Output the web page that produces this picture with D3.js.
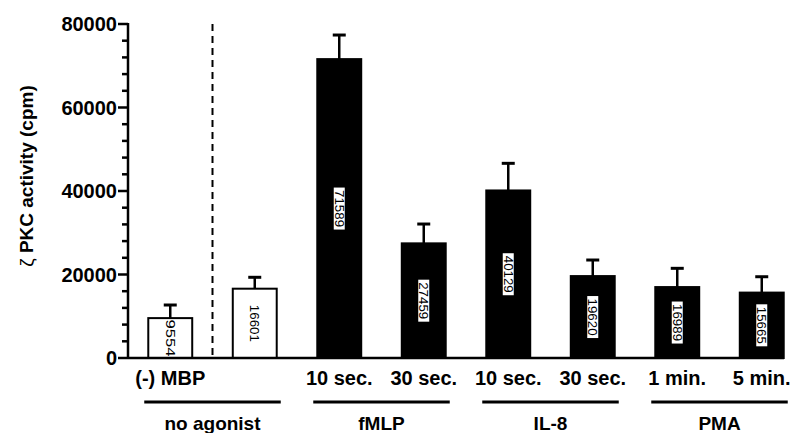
<!DOCTYPE html>
<html><head><meta charset="utf-8">
<script src="https://cdn.jsdelivr.net/npm/d3@7"></script>
<style>body{margin:0;background:#fff}svg{display:block}</style>
</head><body>
<svg id="c" width="797" height="433"></svg>
<script>
const categories = ["(-) MBP", "b2", "f10", "f30", "i10", "i30", "p1", "p5"];
const categoryLabels = ["(-) MBP", "", "10 sec.", "30 sec.", "10 sec.", "30 sec.", "1 min.", "5 min."];
const values = [9554, 16601, 71589, 27459, 40129, 19620, 16989, 15665];
const errors = [3140, 2730, 5770, 4630, 6500, 3850, 4490, 3800];
const filled = [false, false, true, true, true, true, true, true];
const groups = ["no agonist", "fMLP", "IL-8", "PMA"];
const groupMembers = [["(-) MBP", "b2"], ["f10", "f30"], ["i10", "i30"], ["p1", "p5"]];
const yTicks = [0, 20000, 40000, 60000, 80000];

const svg = d3.select("#c");
const font = "'Liberation Sans', Arial, Helvetica, sans-serif";
const x = d3.scaleBand().domain(categories).range([128, 804]).paddingInner(0.48).paddingOuter(0.24);
const y = d3.scaleLinear().domain([0, 80000]).range([358, 24]);

// dashed separator
const sepX = (x("(-) MBP") + x.bandwidth() + x("b2")) / 2;
svg.append("line").attr("x1", sepX).attr("x2", sepX).attr("y1", y(80000)).attr("y2", y(0))
  .attr("stroke", "#000").attr("stroke-width", 2).attr("stroke-dasharray", "7,5");

// bars
const data = categories.map((c, i) => ({c, v: values[i], e: errors[i], f: filled[i]}));
svg.selectAll("rect.bar").data(data).enter().append("rect")
  .attr("x", d => x(d.c)).attr("width", x.bandwidth())
  .attr("y", d => y(d.v)).attr("height", d => y(0) - y(d.v))
  .attr("fill", d => d.f ? "#000" : "#fff").attr("stroke", "#000").attr("stroke-width", 2);

// error bars
const eb = svg.selectAll("g.eb").data(data).enter().append("g");
eb.append("line").attr("x1", d => x(d.c) + x.bandwidth()/2).attr("x2", d => x(d.c) + x.bandwidth()/2)
  .attr("y1", d => y(d.v)).attr("y2", d => y(d.v + d.e)).attr("stroke", "#000").attr("stroke-width", 2.5);
eb.append("line").attr("x1", d => x(d.c) + x.bandwidth()/2 - 6.5).attr("x2", d => x(d.c) + x.bandwidth()/2 + 6.5)
  .attr("y1", d => y(d.v + d.e)).attr("y2", d => y(d.v + d.e)).attr("stroke", "#000").attr("stroke-width", 3);

// value labels
const vl = svg.selectAll("g.vl").data(data).enter().append("g")
  .attr("transform", d => `translate(${x(d.c) + x.bandwidth()/2},${(y(d.v) + y(0))/2}) rotate(90)`);
vl.filter(d => d.f).append("rect").attr("x", -21).attr("y", -5.5).attr("width", 42).attr("height", 11).attr("fill", "#fff");
vl.append("text").attr("text-anchor", "middle").attr("y", 4.3)
  .attr("font-family", font).attr("font-size", 12).attr("textLength", 37).attr("lengthAdjust", "spacingAndGlyphs")
  .text(d => d.v);

// y axis
const gy = svg.append("g").attr("transform", "translate(128,0)");
gy.append("line").attr("x1", 0).attr("x2", 0).attr("y1", y(80000) - 1).attr("y2", y(0)).attr("stroke", "#000").attr("stroke-width", 2.5);
gy.selectAll("line.minor").data(d3.range(0, 80001, 4000)).enter().append("line")
  .attr("x1", d => yTicks.includes(d) ? -10 : -6).attr("x2", 0)
  .attr("y1", d => y(d)).attr("y2", d => y(d)).attr("stroke", "#000").attr("stroke-width", 2.5);
gy.selectAll("text").data(yTicks).enter().append("text")
  .attr("x", -11).attr("y", d => y(d)).attr("dy", "0.36em").attr("text-anchor", "end")
  .attr("font-family", font).attr("font-weight", "bold").attr("font-size", 20).text(d => d);

// x axis line
svg.append("line").attr("x1", 128).attr("x2", 784).attr("y1", y(0)).attr("y2", y(0)).attr("stroke", "#000").attr("stroke-width", 2.5);

// category labels
svg.selectAll("text.cat").data(categories).enter().append("text")
  .attr("x", d => x(d) + x.bandwidth()/2).attr("y", 385).attr("text-anchor", "middle")
  .attr("font-family", font).attr("font-weight", "bold").attr("font-size", 20)
  .text((d, i) => categoryLabels[i]);

// group lines and labels
groups.forEach((g, i) => {
  const a = x(groupMembers[i][0]) + x.bandwidth()/2, b = x(groupMembers[i][1]) + x.bandwidth()/2;
  svg.append("line").attr("x1", a - 26).attr("x2", Math.min(b + 26, 788)).attr("y1", 402).attr("y2", 402)
    .attr("stroke", "#000").attr("stroke-width", 3);
  svg.append("text").attr("x", (a + b)/2).attr("y", 430).attr("text-anchor", "middle")
    .attr("font-family", font).attr("font-weight", "bold").attr("font-size", 19).text(g);
});

// y title
const yt = svg.append("text").attr("transform", "translate(33,176) rotate(-90)").attr("text-anchor", "middle")
  .attr("font-family", font).attr("font-size", 19);
yt.append("tspan").text("ζ ");
yt.append("tspan").attr("font-weight", "bold").text("PKC activity (cpm)");
</script>
</body></html>
